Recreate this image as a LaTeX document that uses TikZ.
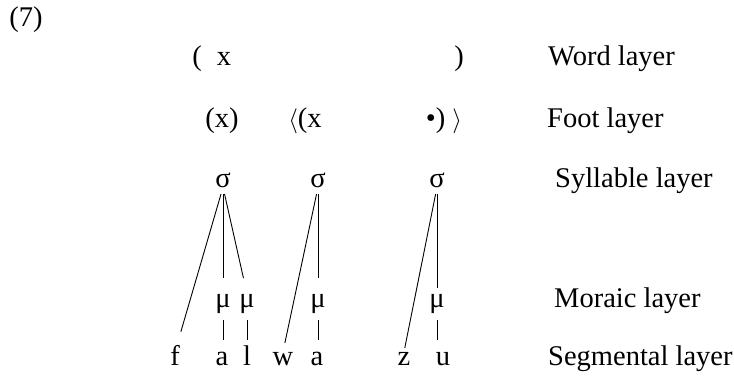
\documentclass[tikz,border=0pt]{standalone}
\usepackage{fontspec}
\setmainfont{Liberation Serif}
\begin{document}
\begin{tikzpicture}[x=1pt,y=-1pt,
  every node/.style={font=\fontsize{28.5}{34}\selectfont, anchor=base, inner sep=0pt},
  tnode/.style={text height=13pt, text depth=0pt},
  layer/.style={anchor=base west},
  branch/.style={line width=0.9pt, shorten <=7pt},
  link/.style={line width=0.9pt, shorten <=13pt, shorten >=12pt}]
  \useasboundingbox (0,0) rectangle (734,376);
  \node (num) at (26,26) {(7)};
  % word and foot rows
  \node (wl) at (197,65) {(};
  \node (wx) at (224,65) {x};
  \node (wr) at (459,65) {)};
  \node (ft1) at (222,127) {(x)};
  \node (ft2) at (305,127) {$\langle$(x};
  \node (ft3) at (444,127) {\textbullet) $\rangle$};
  % syllables, moras, segments
  \node[tnode] (s1) at (223,187) {σ};
  \node[tnode] (s2) at (318,187) {σ};
  \node[tnode] (s3) at (437,187) {σ};
  \node[tnode] (m1) at (223,307) {μ};
  \node[tnode] (m2) at (247,307) {μ};
  \node[tnode] (m3) at (318,307) {μ};
  \node[tnode] (m4) at (437,307) {μ};
  \node[tnode] (sf) at (175,365) {f};
  \node[tnode] (sa1) at (222,365) {a};
  \node[tnode] (sl) at (247,365) {l};
  \node[tnode] (sw) at (283,365) {w};
  \node[tnode] (sa2) at (317,365) {a};
  \node[tnode] (sz) at (404,365) {z};
  \node[tnode] (su) at (443,365) {u};
  % labels
  \node[layer] (lw) at (548,65) {Word layer};
  \node[layer] (lf) at (547,127) {Foot layer};
  \node[layer] (ls) at (555,187) {Syllable layer};
  \node[layer] (lm) at (554,307) {Moraic layer};
  \node[layer] (lg) at (548,365) {Segmental layer};
  \draw[branch, shorten >=21pt] (s1.south) -- (sf.north);
  \draw[branch, shorten >=16pt] (s1.south) -- (m1.north);
  \draw[branch, shorten >=16pt] (s1.south) -- (m2.north);
  \draw[branch, shorten >=9pt] (s2.south) -- (sw.north);
  \draw[branch, shorten >=16pt] (s2.south) -- (m3.north);
  \draw[branch, shorten >=4pt] (s3.south) -- (sz.north);
  \draw[branch, shorten >=6pt] (s3.south) -- (m4.north);
  \draw[link] (m1.south) -- (m1.south |- sa1.north);
  \draw[link] (m2.south) -- (m2.south |- sl.north);
  \draw[link] (m3.south) -- (m3.south |- sa2.north);
  \draw[link] (m4.south) -- (m4.south |- su.north);
\end{tikzpicture}
\end{document}
